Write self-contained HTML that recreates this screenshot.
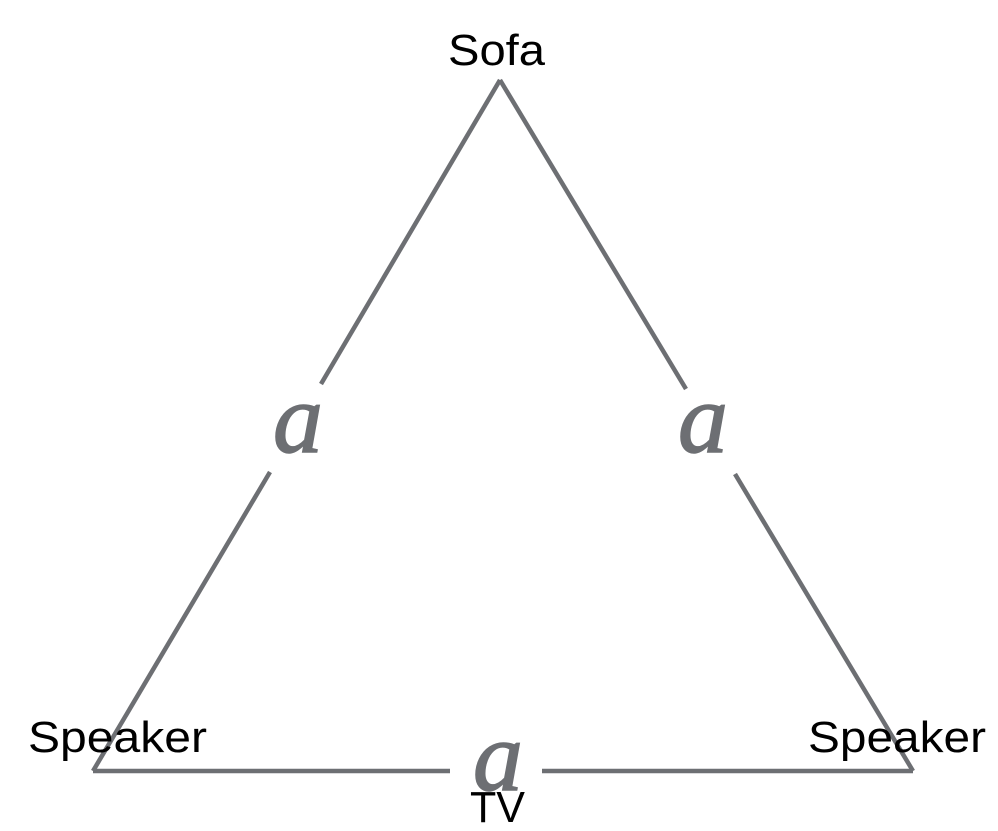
<!DOCTYPE html>
<html><head><style>body{margin:0;background:#fff}</style></head><body>
<svg width="998" height="826" viewBox="0 0 998 826" xmlns="http://www.w3.org/2000/svg">
<g stroke="#6d6f73" stroke-width="4.5" fill="none">
<line x1="500" y1="80" x2="321" y2="384"/>
<line x1="270" y1="472" x2="93" y2="771"/>
<line x1="500" y1="80" x2="686" y2="389"/>
<line x1="735" y1="474" x2="913" y2="771"/>
<line x1="93" y1="771" x2="450" y2="771"/>
<line x1="542" y1="771" x2="913" y2="771"/>
</g>
<g fill="#6d6f73" stroke="#6d6f73" stroke-width="1.5" font-family="Liberation Serif, serif" font-style="italic" font-size="100" text-anchor="middle">
<text x="298" y="452">a</text>
<text x="703" y="452">a</text>
<text x="498" y="790">a</text>
</g>
<g fill="#000" font-family="Liberation Sans, sans-serif" font-size="44">
<text x="448" y="65" textLength="97" lengthAdjust="spacingAndGlyphs">Sofa</text>
<text x="28" y="752" textLength="179" lengthAdjust="spacingAndGlyphs">Speaker</text>
<text x="808" y="752" textLength="178" lengthAdjust="spacingAndGlyphs">Speaker</text>
<text x="470" y="822" textLength="55" lengthAdjust="spacingAndGlyphs">TV</text>
</g>
</svg>
</body></html>
